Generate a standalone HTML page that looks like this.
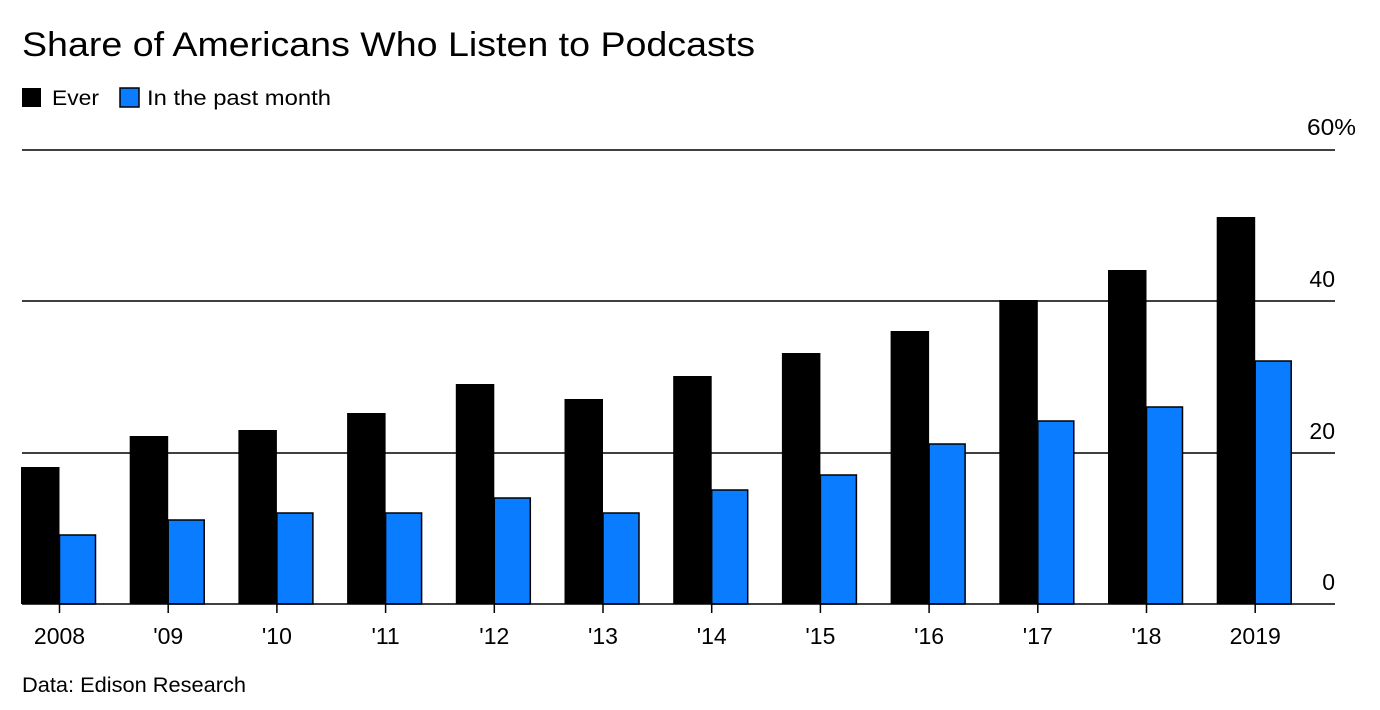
<!DOCTYPE html>
<html><head><meta charset="utf-8"><style>
body{margin:0;background:#fff;}
svg{display:block;font-family:"Liberation Sans",sans-serif;}
</style></head><body>
<svg width="1380" height="710" viewBox="0 0 1380 710">
<rect width="1380" height="710" fill="#fff"/>
<text x="22" y="56" font-size="34" textLength="733" lengthAdjust="spacingAndGlyphs">Share of Americans Who Listen to Podcasts</text>
<rect x="22" y="88" width="19" height="19" fill="#000"/>
<text x="52" y="105" font-size="21" textLength="47" lengthAdjust="spacingAndGlyphs">Ever</text>
<rect x="120" y="88" width="19" height="19" fill="#0a7cff" stroke="#000" stroke-width="1.5"/>
<text x="147" y="105" font-size="21" textLength="184" lengthAdjust="spacingAndGlyphs">In the past month</text>
<g stroke="#000" stroke-width="1.5">
<line x1="22" y1="150" x2="1335" y2="150"/>
<line x1="22" y1="301" x2="1335" y2="301"/>
<line x1="22" y1="453" x2="1335" y2="453"/>
</g>
<g font-size="23" fill="#000">
<text x="1307" y="135" textLength="49" lengthAdjust="spacingAndGlyphs">60%</text>
<text x="1335" y="287" text-anchor="end">40</text>
<text x="1335" y="439" text-anchor="end">20</text>
<text x="1335" y="590" text-anchor="end">0</text>
</g>
<g fill="#000">
<rect x="21" y="467" width="38.5" height="137"/>
<rect x="129.7" y="436" width="38.5" height="168"/>
<rect x="238.4" y="430" width="38.5" height="174"/>
<rect x="347.1" y="413" width="38.5" height="191"/>
<rect x="455.8" y="384" width="38.5" height="220"/>
<rect x="564.5" y="399" width="38.5" height="205"/>
<rect x="673.2" y="376" width="38.5" height="228"/>
<rect x="781.9" y="353" width="38.5" height="251"/>
<rect x="890.6" y="331" width="38.5" height="273"/>
<rect x="999.3" y="300" width="38.5" height="304"/>
<rect x="1108" y="270" width="38.5" height="334"/>
<rect x="1216.7" y="217" width="38.5" height="387"/>
</g>
<g fill="#0a7cff" stroke="#000" stroke-width="1.5">
<rect x="59.5" y="535" width="36" height="69"/>
<rect x="168.2" y="520" width="36" height="84"/>
<rect x="276.9" y="513" width="36" height="91"/>
<rect x="385.6" y="513" width="36" height="91"/>
<rect x="494.3" y="498" width="36" height="106"/>
<rect x="603" y="513" width="36" height="91"/>
<rect x="711.7" y="490" width="36" height="114"/>
<rect x="820.4" y="475" width="36" height="129"/>
<rect x="929.1" y="444" width="36" height="160"/>
<rect x="1037.8" y="421" width="36" height="183"/>
<rect x="1146.5" y="407" width="36" height="197"/>
<rect x="1255.2" y="361" width="36" height="243"/>
</g>
<line x1="22" y1="604" x2="1335" y2="604" stroke="#000" stroke-width="1.5"/>
<g stroke="#000" stroke-width="1.5">
<line x1="59.5" y1="604" x2="59.5" y2="613"/>
<line x1="168.2" y1="604" x2="168.2" y2="613"/>
<line x1="276.9" y1="604" x2="276.9" y2="613"/>
<line x1="385.6" y1="604" x2="385.6" y2="613"/>
<line x1="494.3" y1="604" x2="494.3" y2="613"/>
<line x1="603" y1="604" x2="603" y2="613"/>
<line x1="711.7" y1="604" x2="711.7" y2="613"/>
<line x1="820.4" y1="604" x2="820.4" y2="613"/>
<line x1="929.1" y1="604" x2="929.1" y2="613"/>
<line x1="1037.8" y1="604" x2="1037.8" y2="613"/>
<line x1="1146.5" y1="604" x2="1146.5" y2="613"/>
<line x1="1255.2" y1="604" x2="1255.2" y2="613"/>
</g>
<g font-size="23" text-anchor="middle">
<text x="59.5" y="644">2008</text>
<text x="168.2" y="644">'09</text>
<text x="276.9" y="644">'10</text>
<text x="385.6" y="644">'11</text>
<text x="494.3" y="644">'12</text>
<text x="603" y="644">'13</text>
<text x="711.7" y="644">'14</text>
<text x="820.4" y="644">'15</text>
<text x="929.1" y="644">'16</text>
<text x="1037.8" y="644">'17</text>
<text x="1146.5" y="644">'18</text>
<text x="1255.2" y="644">2019</text>
</g>
<text x="22" y="692" font-size="21" textLength="224" lengthAdjust="spacingAndGlyphs">Data: Edison Research</text>
</svg>
</body></html>
